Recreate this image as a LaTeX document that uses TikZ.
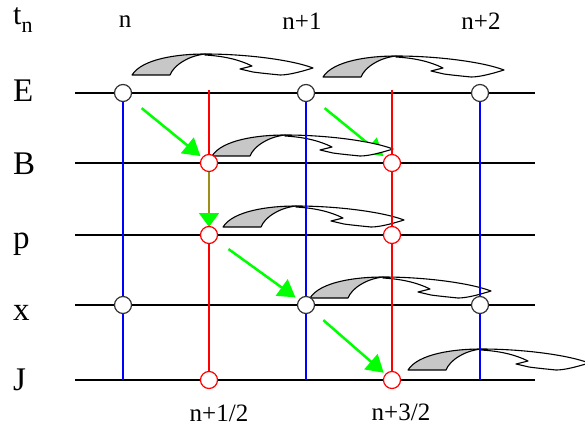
\documentclass[tikz,border=0pt]{standalone}
\usepackage{fontspec}
\setmainfont{Liberation Serif}
\usetikzlibrary{arrows.meta}

\begin{document}
\begin{tikzpicture}[x=1pt, y=-1pt,
    every node/.style={inner sep=0pt},
    rowlbl/.style={font=\fontsize{33}{36}\selectfont, anchor=base west},
    collbl/.style={font=\fontsize{25}{28}\selectfont, anchor=base},
    gridline/.style={line width=1.3pt, black},
    whole/.style={circle, draw=black!80, fill=white, line width=1.2pt, minimum size=17pt},
    half/.style={circle, draw=red, fill=white, line width=1.2pt, minimum size=17pt},
    push/.style={-{Triangle[length=17pt,width=20pt]}, line width=2.5pt, green, shorten <=24pt, shorten >=11pt},
    ribbon/.style={line width=1.1pt, black, line join=round}
]
\useasboundingbox (0,0) rectangle (585,430);

% grid points: rows and time columns
\foreach \r/\y in {E/93,B/163,p/235,x/305,J/380} {
  \foreach \c/\cx in {0/123,1/209,2/306,3/392,4/480}
    \coordinate (\r\c) at (\cx,\y);
  \coordinate (a\r) at (75,\y);
  \coordinate (b\r) at (535,\y);
  \draw[gridline] (a\r) -- (b\r);
}

% labels
\node[font=\fontsize{30}{32}\selectfont, anchor=base west] (ltn) at (13,25) {t\raisebox{-8pt}{\fontsize{22}{22}\selectfont n}};
\node[rowlbl] (lE) at (13,102) {E};
\node[rowlbl] (lB) at (13,175) {B};
\node[rowlbl] (lp) at (13,248) {p};
\node[rowlbl] (lx) at (13,320) {x};
\node[rowlbl] (lJ) at (13,390) {J};
\node[collbl] (tn0) at (125,28) {n};
\node[collbl] (tn1) at (302,30) {n+1};
\node[collbl] (tn2) at (481,30) {n+2};
\node[collbl] (tn01) at (219,421) {n+1/2};
\node[collbl] (tn12) at (401,420) {n+3/2};

% push forward in the leapfrog
\draw[push] (E0) -- (B1);
\draw[push] (E2) -- (B3);
\draw[push, shorten >=13pt] (p1) -- (x2);
\draw[push, shorten <=23pt] (x2) -- (J3);

% curved update arrows
\foreach \sx/\sy in {132/75, 323/77, 212/156, 223/227, 310/298, 408/370} {
  \begin{scope}[shift={(\sx,\sy)}, yscale=-1]
    \draw[ribbon, fill=white] (73,21) .. controls (115,21) and (160,15) .. (181,7)
      .. controls (165,2) and (155,0) .. (148,0) .. controls (138,1) and (128,2) .. (121,3)
      -- (108,6) -- (120,9) .. controls (106,16) and (90,19) .. (73,20) -- cycle;
    \draw[ribbon, fill=black!22] (0,0) .. controls (10,16) and (45,21) .. (73,21)
      .. controls (56,19) and (42,10) .. (38,0) -- cycle;
  \end{scope}
}

% time levels
\foreach \c in {0,2,4}
  \draw[blue, line width=1.3pt] (E\c) -- (J\c);
\foreach \c/\cx in {1/209,3/392} {
  \coordinate (top\c) at (\cx,90);
  \draw[red, line width=1.3pt] (top\c) -- (J\c);
}
\draw[push, shorten <=9pt, shorten >=8pt, olive!70!brown, line width=2pt,
  -{Triangle[length=14pt,width=20pt,color=green]}] (B1) -- (p1);

% grid values
\foreach \r in {E,x}
  \foreach \c in {0,2,4}
    \node[whole] (o\r\c) at (\r\c) {};
\foreach \r in {B,p,J}
  \foreach \c in {1,3}
    \node[half] (o\r\c) at (\r\c) {};
\end{tikzpicture}
\end{document}
